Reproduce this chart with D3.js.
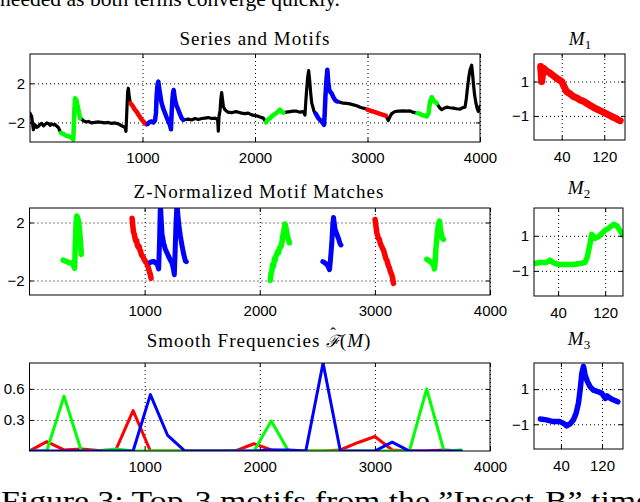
<!DOCTYPE html>
<html><head><meta charset="utf-8">
<script src="https://cdn.jsdelivr.net/npm/d3@7"></script>
<style>body{margin:0;background:#fff;} svg{display:block;}</style>
</head><body><svg id="c" width="640" height="502"></svg>
<script>
// ---------- DATA ----------
const series = [[0,-1.05],[15,-1.4],[30,-2.75],[44,-2.24],[60,-2.5],[74,-2.4],[90,-2.2],[104,-2.1],[120,-2.35],[133,-2.2],[150,-2.05],[163,-2.1],[180,-2.3],[193,-2.15],[210,-2.25],[222,-2.2],[240,-2.4],[252,-2.5],[267,-2.9],
[276,-3.08],[300,-3.2],[320,-3.36],[340,-3.4],[360,-3.5],[375,-3.6],[385,-3.76],[392,-1.5],[400,0.47],[412,0.3],[425,-0.4],[435,-1.0],[444,-1.56],
[453,-1.6],[474,-1.83],[500,-1.95],[519,-1.9],[545,-2.05],[578,-2.0],[610,-1.95],[637,-2.0],[665,-2.05],[696,-2.0],[725,-2.1],[755,-2.05],[785,-2.15],[815,-2.34],[844,-2.5],[853,-2.9],[862,-0.5],[868,1.1],[874,1.5],[880,0.8],
[892,-0.03],[912,-0.3],[933,-0.7],[948,-0.9],[963,-1.2],[978,-1.45],[992,-1.7],[1008,-1.9],[1022,-2.1],[1035,-2.2],[1046,-2.15],
[1065,-1.95],[1081,-1.9],[1096,-2.0],[1111,-1.8],[1120,-1.0],[1126,0.8],[1134,1.9],[1141,2.17],[1148,1.5],[1156,0.98],[1163,0.4],[1170,-0.03],[1185,-0.6],[1200,-1.05],[1215,-1.5],[1230,-1.9],[1245,-2.3],[1253,-2.7],[1259,-1.0],[1265,0.2],[1271,1.0],[1277,1.32],[1283,0.8],[1289,0.3],[1303,-0.3],[1318,-0.7],[1333,-1.15],[1348,-1.56],[1363,-1.73],
[1385,-1.7],[1407,-1.66],[1437,-1.75],[1467,-1.6],[1497,-1.7],[1526,-1.6],[1555,-1.55],[1585,-1.5],[1615,-1.6],[1644,-1.55],[1660,-1.65],[1668,-1.75],[1674,-2.9],[1680,-1.4],[1689,-0.8],[1697,0.5],[1704,1.05],[1712,0.3],[1719,-0.37],[1733,-0.7],[1760,-0.95],[1793,-1.0],[1822,-0.9],[1852,-0.95],[1881,-1.05],[1911,-1.1],[1940,-1.05],[1970,-1.22],[2000,-1.3],[2015,-1.32],[2045,-1.45],[2074,-1.56],
[2098,-2.0],[2115,-1.7],[2133,-1.56],[2148,-1.4],[2163,-1.22],[2178,-1.15],[2193,-1.0],[2208,-0.85],[2222,-0.7],[2237,-0.9],[2252,-1.0],
[2280,-0.95],[2311,-0.9],[2340,-0.85],[2370,-0.85],[2400,-0.95],[2430,-0.9],[2444,-1.25],[2452,0.2],[2459,1.32],[2468,2.6],[2477,3.3],[2486,2.3],[2495,1.0],[2504,0.0],[2513,-0.37],[2523,-0.8],[2533,-1.05],
[2540,-1.1],[2550,-1.3],[2563,-1.56],[2578,-1.75],[2593,-1.9],[2605,-2.1],[2614,-2.24],[2620,-1.0],[2626,0.64],[2634,2.2],[2643,3.4],[2652,2.0],[2661,1.3],[2671,1.1],[2681,0.98],[2696,0.6],[2711,0.3],[2722,0.2],[2732,0.14],
[2760,0.05],[2785,-0.03],[2815,-0.05],[2844,-0.1],[2875,-0.2],[2904,-0.3],[2935,-0.45],[2963,-0.54],[2985,-0.6],
[2999,-0.7],[3025,-0.8],[3052,-0.88],[3080,-1.0],[3111,-1.12],[3140,-1.22],[3164,-1.32],
[3170,-1.45],[3185,-1.8],[3200,-1.4],[3215,-1.1],[3244,-0.88],[3275,-0.85],[3318,-0.82],[3350,-0.85],[3378,-0.82],[3400,-0.95],[3422,-1.0],
[3443,-1.05],[3462,-1.1],[3482,-1.22],[3504,-1.3],[3526,-1.39],[3543,-1.05],[3550,-0.4],[3556,0.14],[3571,0.58],[3581,0.4],[3591,0.14],[3603,0.1],[3615,-0.03],
[3630,-0.3],[3645,-0.55],[3660,-0.7],[3680,-0.55],[3704,-0.44],[3733,-0.5],[3763,-0.54],[3792,-0.6],[3822,-0.64],[3845,-0.5],[3867,-0.44],[3878,0.4],[3887,1.35],[3900,2.6],[3911,3.36],[3926,3.86],[3934,3.0],[3941,2.0],[3952,0.8],[3964,-0.03],[3975,-0.6],[3985,-0.88],[4000,-0.37]];

const redRanges   = [[892,1046],[2999,3164]];
const greenRanges = [[276,444],[2098,2252],[3443,3615]];
const blueRanges  = [[1046,1363],[2540,2732]];

// z-normalized motif matches
const zRed = [
 [[891,2.3],[897,1.8],[903,1.35],[910,1.2],[917,0.9],[924,0.7],[931,0.75],[938,0.4],[945,0.3],[952,0.35],[958,0.1],[964,0.05],[971,-0.2],[978,-0.3],[986,-0.35],[993,-0.5],[1000,-0.6],[1007,-0.7],[1014,-0.75],[1021,-0.85],[1028,-1.0],[1035,-1.2],[1042,-1.4],[1050,-1.6],[1056,-1.85]],
 [[3002,2.2],[3010,1.7],[3017,1.3],[3024,1.1],[3031,0.9],[3038,0.85],[3046,0.6],[3053,0.45],[3060,0.35],[3067,0.2],[3075,0.1],[3082,-0.1],[3089,-0.3],[3096,-0.5],[3104,-0.6],[3111,-0.8],[3118,-1.0],[3125,-1.1],[3132,-1.3],[3140,-1.5],[3147,-1.6],[3155,-1.9],[3162,-2.2]]
];
const zGreen = [
 [[292,-0.6],[310,-0.65],[330,-0.72],[350,-0.78],[370,-0.8],[385,-1.0],[392,-1.15],[398,0.5],[404,1.8],[410,2.45],[418,2.35],[425,2.1],[432,1.7],[438,1.2],[444,0.5],[450,-0.2]],
 [[2091,-2.0],[2098,-1.5],[2105,-1.35],[2112,-0.9],[2120,-1.0],[2127,-0.5],[2134,-0.6],[2141,-0.3],[2148,-0.2],[2156,0.0],[2163,-0.1],[2171,0.2],[2178,0.3],[2185,0.35],[2192,0.6],[2199,1.0],[2206,1.3],[2213,1.6],[2220,1.9],[2228,1.6],[2235,1.3],[2242,1.0],[2250,0.8],[2258,0.6]],
 [[3451,-0.54],[3462,-0.6],[3472,-0.65],[3480,-0.7],[3490,-0.75],[3500,-0.85],[3509,-0.9],[3517,-1.2],[3523,-0.8],[3530,0.2],[3538,0.9],[3546,1.5],[3553,1.9],[3561,2.1],[3568,1.6],[3575,1.3],[3581,1.0],[3589,0.9],[3596,0.84]]
];
const zBlue = [
 [[1050,-0.75],[1065,-0.7],[1079,-0.68],[1095,-0.8],[1108,-0.85],[1122,-1.2],[1130,0.8],[1137,3.3],[1144,2.2],[1151,1.2],[1165,0.6],[1180,0.15],[1195,-0.1],[1209,-0.35]],
 [[1209,-0.35],[1224,-0.6],[1238,-0.8],[1250,-1.2],[1258,-1.6],[1265,0.0],[1272,1.8],[1281,3.3],[1288,2.6],[1296,1.9],[1310,1.1],[1325,0.4],[1340,-0.2],[1354,-0.65],[1362,-0.7]],
 [[2548,-0.7],[2560,-0.75],[2572,-0.82],[2583,-0.9],[2595,-1.05],[2606,-1.25],[2615,-0.5],[2626,0.6],[2634,1.8],[2641,2.35],[2648,1.9],[2655,1.5],[2665,1.3],[2676,1.05],[2686,0.85],[2693,0.65],[2700,0.5],[2705,0.45]]
];

// smooth frequencies
const freqX     = [0,150,300,450,600,750,900,1050,1200,1350,1500,1650,1800,1950,2100,2250,2400,2550,2700,2850,3000,3150,3300,3450,3600,3750];
const freqRed   = [0,0.09,0.01,0.02,0.005,0.01,0.39,0,0,0,0,0,0.005,0.07,0.01,0,0,0,0.01,0.08,0.14,0.01,0,0,0.01,0];
const freqGreen = [0,0,0.53,0,0,0.02,0,0,0,0,0,0,0,0,0.29,0,0,0,0,0,0,0,0,0.6,0,0.01];
const freqBlue  = [0,0,0,0,0,0,0,0.545,0.15,0,0,0,0,0,0.01,0.01,0,0.85,0,0,0,0.085,0,0,0,0];

// motifs
const motif1 = [[0.5,1.87],[2.4,1.0],[5.5,1.78],[12,1.6],[18,1.49],[24,1.35],[30.5,1.19],[40,1.0],[49,0.42],[55,0.3],[62,0.13],[68,0.05],[74.5,-0.07],[81,-0.15],[87,-0.26],[93,-0.38],[99.5,-0.5],[106,-0.6],[112,-0.69],[118,-0.78],[124.5,-0.88],[131,-0.98],[137,-1.08],[142,-1.15],[146,-1.23],[150,-1.28]];
const motif2 = [[0,-0.58],[8.6,-0.52],[20,-0.52],[25.7,-0.39],[34.3,-0.58],[42.9,-0.64],[54.3,-0.64],[65.7,-0.64],[77.1,-0.58],[85.7,-0.52],[89.7,-0.2],[94.3,0.56],[97.1,1.08],[102.9,0.85],[108.6,0.94],[114.3,1.13],[120,1.32],[125.7,1.42],[134.3,1.65],[140,1.57],[144.6,1.32],[150,1.04]];
const motif3 = [[0,-0.7],[11.8,-0.75],[24.9,-0.85],[38,-0.85],[44.6,-0.94],[51.2,-1.09],[57.7,-0.98],[64.3,-0.75],[69.5,-0.38],[74.1,0.19],[77.4,0.94],[80.7,1.89],[84,2.3],[87.2,1.79],[91.8,1.42],[97,1.13],[103.6,0.94],[113.5,0.85],[120,0.75],[126.6,0.47],[129.9,0.62],[136.4,0.47],[143,0.38],[150.9,0.28]];

const mainXTicks = [1000,2000,3000,4000];
const topYTicks = [-2,2];
const midYTicks = [-2,2];
const freqYTicks = [0.3,0.6];
const motifXTicks = [40,120];
const motifYTicks = [-1,1];

// ---------- DRAW ----------
const svg = d3.select('#c');
const RED='#ff0000', GREEN='#00ff00', BLUE='#0000ff';
const SERIF='"Liberation Serif", "Times New Roman", serif';
let clipN = 0;
function panel(o){
  const x = d3.scaleLinear().domain(o.xd).range([o.x0,o.x1]);
  const y = d3.scaleLinear().domain(o.yd).range([o.y1,o.y0]);
  const w = o.x1-o.x0, h = o.y1-o.y0;
  const id = 'clip'+(clipN++);
  svg.append('clipPath').attr('id',id).append('rect')
    .attr('x',o.x0).attr('y',o.y0).attr('width',w).attr('height',h);
  const gg = svg.append('g');
  gg.append('g').attr('transform',`translate(0,${o.y1})`)
    .call(d3.axisBottom(x).tickValues(o.xt).tickSize(-h).tickFormat(''));
  gg.append('g').attr('transform',`translate(${o.x0},0)`)
    .call(d3.axisLeft(y).tickValues(o.yt).tickSize(-w).tickFormat(''));
  gg.selectAll('.domain').remove();
  gg.selectAll('line').attr('stroke','#000').attr('stroke-dasharray','1,3').attr('stroke-width',1);
  const marks = svg.append('g').attr('clip-path',`url(#${id})`);
  const ax = svg.append('g');
  ax.append('g').attr('transform',`translate(0,${o.y1})`)
    .call(d3.axisBottom(x).tickValues(o.xt).tickSize(-4).tickPadding(o.xp||10).tickFormat(o.xf||d3.format('d')));
  ax.append('g').attr('transform',`translate(${o.x0},0)`)
    .call(d3.axisLeft(y).tickValues(o.yt).tickSize(-4).tickPadding(5).tickFormat(o.yf||d3.format('d')));
  ax.append('g').attr('transform',`translate(0,${o.y0})`)
    .call(d3.axisTop(x).tickValues(o.xt).tickSize(-4).tickFormat(''));
  ax.append('g').attr('transform',`translate(${o.x1},0)`)
    .call(d3.axisRight(y).tickValues(o.yt).tickSize(-4).tickFormat(''));
  ax.selectAll('.domain').remove();
  ax.selectAll('line').attr('stroke','#000');
  ax.selectAll('text').attr('font-family','"Liberation Sans", Arial, sans-serif')
    .attr('font-size',15).attr('fill','#000');
  svg.append('rect').attr('x',o.x0).attr('y',o.y0).attr('width',w).attr('height',h)
    .attr('fill','none').attr('stroke','#000').attr('stroke-width',1);
  const line = d3.line().x(d=>x(d[0])).y(d=>y(d[1]));
  return {x,y,marks,line};
}
function drawLine(p, data, color, width){
  p.marks.append('path').datum(data).attr('d',p.line)
    .attr('fill','none').attr('stroke',color).attr('stroke-width',width)
    .attr('stroke-linejoin','round').attr('stroke-linecap','round');
}
function title(x,y,txt){
  svg.append('text').attr('x',x).attr('y',y).attr('text-anchor','middle')
    .attr('font-family',SERIF).attr('font-size',19)
    .attr('letter-spacing',1).text(txt);
}
function mtitle(x,y,n){
  const t = svg.append('text').attr('x',x).attr('y',y).attr('text-anchor','middle')
    .attr('font-family',SERIF).attr('font-size',19);
  t.append('tspan').attr('font-style','italic').text('M');
  t.append('tspan').attr('font-size',13).attr('dy',4).text(n);
}

// Top panel
const p1 = panel({x0:30,x1:480,y0:54,y1:142,xd:[0,4000],yd:[-4,5],xt:mainXTicks,yt:topYTicks});
drawLine(p1, series, '#000', 3.2);
const seg = (r)=>series.filter(d=>d[0]>=r[0]&&d[0]<=r[1]);
redRanges.forEach(r=>drawLine(p1, seg(r), RED, 4.5));
greenRanges.forEach(r=>drawLine(p1, seg(r), GREEN, 4.5));
blueRanges.forEach(r=>drawLine(p1, seg(r), BLUE, 4.5));
title(255,45,'Series and Motifs');

// Middle panel
const p2 = panel({x0:29.5,x1:490,y0:208,y1:295,xd:[0,4000],yd:[-3,3],xt:mainXTicks,yt:midYTicks});
zRed.forEach(s=>drawLine(p2, s, RED, 5.5));
zGreen.forEach(s=>drawLine(p2, s, GREEN, 5.5));
zBlue.forEach(s=>drawLine(p2, s, BLUE, 5));
title(259,198,'Z-Normalized Motif Matches');

// Bottom panel
const p3 = panel({x0:29.5,x1:490,y0:363,y1:451,xd:[0,4000],yd:[0,0.85],xt:mainXTicks,yt:freqYTicks,yf:d3.format('.1f')});
drawLine(p3, freqX.map((v,i)=>[v,freqRed[i]]), RED, 3);
drawLine(p3, freqX.map((v,i)=>[v,freqGreen[i]]), GREEN, 3);
drawLine(p3, freqX.map((v,i)=>[v,freqBlue[i]]), BLUE, 3);
{
  const t = svg.append('text').attr('x',259).attr('y',347).attr('text-anchor','middle')
    .attr('font-family',SERIF).attr('font-size',19).attr('letter-spacing',1);
  t.append('tspan').text('Smooth Frequencies ');
  t.append('tspan').attr('font-family','"DejaVu Serif", serif').attr('font-style','italic').attr('font-size',17).text('\u2131');
  t.append('tspan').attr('font-size',17).attr('dx',-11).attr('dy',-8).attr('letter-spacing',0).text('\u02C6');
  t.append('tspan').attr('dx',4).attr('dy',8).text('(');
  t.append('tspan').attr('font-style','italic').text('M');
  t.append('tspan').text(')');
}

// Motif panels
const m1 = panel({x0:534,x1:625,y0:54,y1:140,xd:[-12,159],yd:[-2.4,2.6],xt:motifXTicks,yt:motifYTicks,xp:11});
drawLine(m1, motif1, RED, 7);
mtitle(580,45,'1');
const m2 = panel({x0:534,x1:623,y0:208,y1:296,xd:[-1,150.3],yd:[-2.43,2.58],xt:motifXTicks,yt:motifYTicks,xp:11});
drawLine(m2, motif2, GREEN, 5.5);
mtitle(579,194,'2');
const m3 = panel({x0:534,x1:623,y0:363,y1:449,xd:[-12.5,161],yd:[-2.41,2.49],xt:motifXTicks,yt:motifYTicks,xp:11});
drawLine(m3, motif3, BLUE, 5.5);
mtitle(579,345,'3');

// surrounding page text (partly outside the frame, as in the reference)
svg.append('text').attr('x',0).attr('y',6).attr('font-family',SERIF)
  .attr('font-size',22).attr('textLength',340).attr('lengthAdjust','spacingAndGlyphs')
  .text('needed as both terms converge quickly.');
svg.append('text').attr('x',1).attr('y',510).attr('font-family',SERIF)
  .attr('font-size',27).attr('textLength',650).attr('lengthAdjust','spacingAndGlyphs')
  .text('Figure 3:  Top-3 motifs from the \u201DInsect-B\u201D time');
</script>
</body></html>
